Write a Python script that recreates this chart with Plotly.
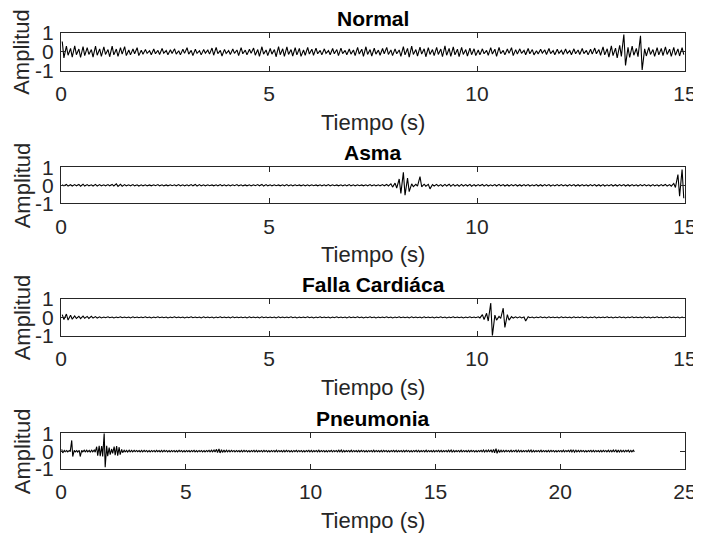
import plotly.graph_objects as go

# ---------------- data (envelope per 0.1 s bin) -------------
bin_s = 0.1
titles = ["Normal", "Asma", "Falla Cardiáca", "Pneumonia"]
x_max = [15, 15, 15, 25]
x_ticks = [[0, 5, 10, 15], [0, 5, 10, 15], [0, 5, 10, 15], [0, 5, 10, 15, 20, 25]]
y_ticks = [-1, 0, 1]

normal_hi = [
    0.55, 0.30, 0.18, 0.32, 0.15, 0.28, 0.22, 0.12, 0.30, 0.16,
    0.26, 0.12, 0.30, 0.15, 0.22, 0.28, 0.10, 0.15, 0.22, 0.09,
    0.12, 0.06, 0.15, 0.08, 0.18, 0.07, 0.11, 0.16, 0.06, 0.14,
    0.22, 0.08, 0.14, 0.06, 0.12, 0.09, 0.20, 0.24, 0.08, 0.13,
    0.07, 0.15, 0.10, 0.22, 0.09, 0.14, 0.20, 0.12, 0.27, 0.10,
    0.18, 0.12, 0.28, 0.16, 0.26, 0.12, 0.22, 0.18, 0.10, 0.24,
    0.14, 0.20, 0.08, 0.16, 0.07, 0.18, 0.12, 0.20, 0.08, 0.15,
    0.10, 0.24, 0.14, 0.27, 0.12, 0.20, 0.09, 0.18, 0.24, 0.10,
    0.16, 0.10, 0.28, 0.18, 0.30, 0.12, 0.25, 0.16, 0.22, 0.12,
    0.24, 0.15, 0.32, 0.18, 0.26, 0.14, 0.24, 0.12, 0.20, 0.16,
    0.10, 0.16, 0.08, 0.22, 0.14, 0.24, 0.08, 0.15, 0.22, 0.12,
    0.16, 0.08, 0.18, 0.12, 0.06, 0.14, 0.10, 0.18, 0.07, 0.14,
    0.08, 0.15, 0.07, 0.16, 0.10, 0.18, 0.08, 0.14, 0.20, 0.12,
    0.26, 0.16, 0.32, 0.20, 0.35, 0.92, 0.24, 0.30, 0.18, 0.85,
    0.16, 0.24, 0.12, 0.22, 0.18, 0.26, 0.14, 0.24, 0.16, 0.22,
]
normal_lo = [
    -0.32, -0.18, -0.28, -0.15, -0.30, -0.20, -0.14, -0.28, -0.18, -0.24,
    -0.14, -0.26, -0.16, -0.24, -0.12, -0.20, -0.16, -0.10, -0.20, -0.13,
    -0.08, -0.15, -0.10, -0.14, -0.07, -0.15, -0.09, -0.12, -0.16, -0.08,
    -0.12, -0.20, -0.08, -0.16, -0.07, -0.12, -0.18, -0.10, -0.22, -0.09,
    -0.14, -0.08, -0.20, -0.10, -0.16, -0.08, -0.18, -0.24, -0.12, -0.20,
    -0.12, -0.26, -0.15, -0.24, -0.14, -0.22, -0.16, -0.24, -0.18, -0.12,
    -0.18, -0.10, -0.16, -0.08, -0.15, -0.10, -0.20, -0.09, -0.15, -0.12,
    -0.20, -0.12, -0.24, -0.14, -0.22, -0.12, -0.18, -0.10, -0.14, -0.20,
    -0.10, -0.24, -0.16, -0.28, -0.14, -0.22, -0.12, -0.26, -0.14, -0.20,
    -0.14, -0.26, -0.18, -0.24, -0.16, -0.25, -0.14, -0.22, -0.15, -0.20,
    -0.16, -0.10, -0.18, -0.12, -0.24, -0.10, -0.16, -0.08, -0.20, -0.12,
    -0.08, -0.15, -0.10, -0.16, -0.12, -0.07, -0.14, -0.09, -0.15, -0.08,
    -0.14, -0.08, -0.15, -0.10, -0.14, -0.09, -0.16, -0.12, -0.10, -0.18,
    -0.16, -0.28, -0.20, -0.32, -0.24, -0.72, -0.30, -0.18, -0.26, -0.96,
    -0.22, -0.14, -0.24, -0.16, -0.20, -0.14, -0.24, -0.18, -0.22, -0.15,
]

asma_hi = [
    0.04, 0.05, 0.03, 0.04, 0.05, 0.06, 0.04, 0.03, 0.05, 0.04,
    0.03, 0.04, 0.05, 0.08, 0.06, 0.04, 0.03, 0.04, 0.03, 0.03,
    0.03, 0.02, 0.03, 0.04, 0.03, 0.02, 0.03, 0.03, 0.04, 0.03,
    0.03, 0.04, 0.05, 0.04, 0.03, 0.03, 0.02, 0.03, 0.04, 0.03,
    0.03, 0.03, 0.04, 0.03, 0.02, 0.03, 0.03, 0.04, 0.05, 0.04,
    0.03, 0.03, 0.02, 0.03, 0.04, 0.03, 0.03, 0.02, 0.03, 0.03,
    0.03, 0.02, 0.03, 0.03, 0.04, 0.03, 0.02, 0.03, 0.03, 0.04,
    0.03, 0.03, 0.02, 0.03, 0.04, 0.03, 0.03, 0.04, 0.05, 0.08,
    0.12, 0.35, 0.72, 0.40, 0.08, 0.05, 0.48, 0.06, 0.05, 0.04,
    0.05, 0.04, 0.05, 0.06, 0.05, 0.04, 0.05, 0.04, 0.05, 0.04,
    0.04, 0.05, 0.04, 0.03, 0.04, 0.05, 0.04, 0.03, 0.04, 0.04,
    0.03, 0.04, 0.04, 0.03, 0.04, 0.03, 0.04, 0.04, 0.03, 0.04,
    0.04, 0.03, 0.04, 0.04, 0.03, 0.04, 0.03, 0.04, 0.04, 0.03,
    0.04, 0.03, 0.04, 0.03, 0.04, 0.04, 0.03, 0.04, 0.03, 0.04,
    0.04, 0.03, 0.04, 0.03, 0.04, 0.05, 0.04, 0.10, 0.60, 0.88,
]
asma_lo = [
    -0.03, -0.04, -0.04, -0.03, -0.05, -0.04, -0.03, -0.04, -0.04, -0.03,
    -0.03, -0.03, -0.04, -0.06, -0.05, -0.03, -0.03, -0.03, -0.04, -0.03,
    -0.03, -0.03, -0.02, -0.03, -0.03, -0.03, -0.02, -0.03, -0.03, -0.03,
    -0.03, -0.03, -0.04, -0.03, -0.03, -0.02, -0.03, -0.03, -0.03, -0.03,
    -0.03, -0.02, -0.03, -0.03, -0.03, -0.03, -0.02, -0.03, -0.04, -0.03,
    -0.03, -0.02, -0.03, -0.03, -0.03, -0.03, -0.02, -0.03, -0.03, -0.03,
    -0.02, -0.03, -0.03, -0.03, -0.03, -0.02, -0.03, -0.03, -0.03, -0.03,
    -0.03, -0.02, -0.03, -0.03, -0.03, -0.03, -0.03, -0.03, -0.04, -0.10,
    -0.15, -0.45, -0.55, -0.35, -0.08, -0.05, -0.08, -0.05, -0.20, -0.04,
    -0.04, -0.05, -0.04, -0.05, -0.04, -0.05, -0.04, -0.04, -0.05, -0.04,
    -0.03, -0.04, -0.04, -0.03, -0.04, -0.03, -0.04, -0.04, -0.03, -0.04,
    -0.04, -0.03, -0.04, -0.03, -0.04, -0.04, -0.03, -0.04, -0.03, -0.03,
    -0.03, -0.04, -0.03, -0.04, -0.04, -0.03, -0.04, -0.03, -0.04, -0.04,
    -0.04, -0.03, -0.04, -0.04, -0.03, -0.04, -0.04, -0.03, -0.04, -0.03,
    -0.03, -0.04, -0.03, -0.04, -0.03, -0.04, -0.05, -0.12, -0.60, -0.72,
]

falla_hi = [
    0.15, 0.18, 0.12, 0.08, 0.06, 0.07, 0.05, 0.06, 0.04, 0.03,
    0.02, 0.03, 0.02, 0.02, 0.03, 0.02, 0.02, 0.03, 0.02, 0.02,
    0.03, 0.02, 0.02, 0.03, 0.02, 0.02, 0.02, 0.03, 0.02, 0.02,
    0.02, 0.03, 0.02, 0.02, 0.03, 0.02, 0.02, 0.02, 0.03, 0.02,
    0.02, 0.03, 0.02, 0.02, 0.02, 0.03, 0.02, 0.02, 0.03, 0.02,
    0.02, 0.02, 0.03, 0.02, 0.02, 0.03, 0.02, 0.02, 0.02, 0.03,
    0.02, 0.02, 0.03, 0.02, 0.02, 0.02, 0.03, 0.02, 0.02, 0.03,
    0.02, 0.03, 0.02, 0.02, 0.03, 0.02, 0.02, 0.02, 0.03, 0.02,
    0.02, 0.03, 0.02, 0.02, 0.03, 0.02, 0.02, 0.03, 0.02, 0.02,
    0.02, 0.03, 0.02, 0.02, 0.03, 0.02, 0.02, 0.02, 0.03, 0.02,
    0.03, 0.15, 0.22, 0.78, 0.12, 0.05, 0.50, 0.15, 0.04, 0.03,
    0.03, 0.02, 0.03, 0.02, 0.02, 0.03, 0.02, 0.03, 0.02, 0.02,
    0.03, 0.02, 0.02, 0.03, 0.02, 0.03, 0.02, 0.02, 0.03, 0.02,
    0.02, 0.03, 0.02, 0.02, 0.03, 0.02, 0.02, 0.03, 0.02, 0.02,
    0.03, 0.02, 0.02, 0.03, 0.02, 0.02, 0.03, 0.02, 0.02, 0.02,
]
falla_lo = [
    -0.12, -0.15, -0.10, -0.06, -0.07, -0.05, -0.06, -0.04, -0.04, -0.03,
    -0.02, -0.02, -0.03, -0.02, -0.02, -0.02, -0.03, -0.02, -0.02, -0.02,
    -0.02, -0.03, -0.02, -0.02, -0.02, -0.03, -0.02, -0.02, -0.02, -0.03,
    -0.02, -0.02, -0.02, -0.03, -0.02, -0.02, -0.03, -0.02, -0.02, -0.02,
    -0.03, -0.02, -0.02, -0.02, -0.03, -0.02, -0.02, -0.03, -0.02, -0.02,
    -0.02, -0.03, -0.02, -0.02, -0.02, -0.02, -0.03, -0.02, -0.02, -0.02,
    -0.03, -0.02, -0.02, -0.02, -0.03, -0.02, -0.02, -0.02, -0.03, -0.02,
    -0.02, -0.02, -0.03, -0.02, -0.02, -0.03, -0.02, -0.02, -0.02, -0.03,
    -0.02, -0.02, -0.02, -0.03, -0.02, -0.02, -0.03, -0.02, -0.02, -0.03,
    -0.02, -0.02, -0.03, -0.02, -0.02, -0.02, -0.03, -0.02, -0.02, -0.02,
    -0.03, -0.12, -0.20, -1.00, -0.15, -0.05, -0.55, -0.15, -0.04, -0.03,
    -0.03, -0.20, -0.02, -0.03, -0.02, -0.02, -0.03, -0.02, -0.02, -0.03,
    -0.02, -0.02, -0.03, -0.02, -0.02, -0.02, -0.03, -0.02, -0.03, -0.02,
    -0.02, -0.02, -0.03, -0.02, -0.02, -0.03, -0.02, -0.02, -0.02, -0.03,
    -0.02, -0.03, -0.02, -0.02, -0.03, -0.02, -0.02, -0.02, -0.03, -0.02,
]

pneu_hi = [
    0.10, 0.04, 0.03, 0.04, 0.60, 0.04, 0.03, 0.05, 0.04, 0.05,
    0.05, 0.04, 0.05, 0.06, 0.25, 0.30, 0.28, 1.00, 0.30, 0.20,
    0.12, 0.25, 0.28, 0.22, 0.10, 0.05, 0.04, 0.05, 0.04, 0.05,
    0.04, 0.03, 0.04, 0.05, 0.04, 0.03, 0.04, 0.04, 0.05, 0.03,
    0.04, 0.05, 0.04, 0.03, 0.04, 0.04, 0.03, 0.05, 0.04, 0.03,
    0.04, 0.03, 0.04, 0.05, 0.03, 0.04, 0.04, 0.03, 0.04, 0.05,
    0.05, 0.06, 0.10, 0.12, 0.08, 0.06, 0.05, 0.04, 0.05, 0.04,
    0.04, 0.03, 0.04, 0.05, 0.04, 0.03, 0.04, 0.05, 0.04, 0.03,
    0.04, 0.05, 0.04, 0.03, 0.04, 0.04, 0.05, 0.04, 0.03, 0.04,
    0.05, 0.04, 0.03, 0.04, 0.05, 0.04, 0.04, 0.03, 0.04, 0.05,
    0.04, 0.03, 0.04, 0.05, 0.04, 0.04, 0.03, 0.04, 0.05, 0.04,
    0.04, 0.05, 0.06, 0.04, 0.03, 0.04, 0.05, 0.04, 0.03, 0.04,
    0.05, 0.04, 0.03, 0.04, 0.04, 0.05, 0.04, 0.03, 0.04, 0.05,
    0.04, 0.03, 0.04, 0.05, 0.04, 0.03, 0.04, 0.04, 0.05, 0.04,
    0.03, 0.04, 0.05, 0.04, 0.03, 0.04, 0.05, 0.04, 0.03, 0.04,
    0.04, 0.05, 0.04, 0.03, 0.04, 0.05, 0.06, 0.04, 0.03, 0.04,
    0.05, 0.04, 0.03, 0.04, 0.05, 0.04, 0.03, 0.04, 0.05, 0.06,
    0.05, 0.06, 0.08, 0.10, 0.14, 0.08, 0.05, 0.04, 0.05, 0.04,
    0.05, 0.04, 0.06, 0.05, 0.04, 0.03, 0.04, 0.05, 0.06, 0.04,
    0.03, 0.04, 0.05, 0.04, 0.03, 0.04, 0.05, 0.04, 0.03, 0.04,
    0.04, 0.05, 0.04, 0.05, 0.06, 0.07, 0.05, 0.04, 0.05, 0.04,
    0.03, 0.04, 0.05, 0.04, 0.04, 0.03, 0.04, 0.05, 0.04, 0.05,
    0.04, 0.06, 0.08, 0.06, 0.05, 0.04, 0.05, 0.06, 0.04, 0.05,
]
pneu_lo = [
    -0.10, -0.03, -0.04, -0.03, -0.30, -0.04, -0.05, -0.30, -0.04, -0.04,
    -0.04, -0.05, -0.04, -0.06, -0.25, -0.28, -0.30, -0.90, -0.28, -0.20,
    -0.12, -0.22, -0.25, -0.20, -0.08, -0.04, -0.05, -0.04, -0.04, -0.03,
    -0.03, -0.04, -0.04, -0.03, -0.04, -0.04, -0.03, -0.04, -0.03, -0.04,
    -0.04, -0.03, -0.04, -0.04, -0.03, -0.04, -0.04, -0.03, -0.04, -0.04,
    -0.03, -0.04, -0.03, -0.04, -0.04, -0.03, -0.04, -0.04, -0.03, -0.04,
    -0.04, -0.05, -0.08, -0.10, -0.07, -0.05, -0.04, -0.04, -0.03, -0.04,
    -0.03, -0.04, -0.04, -0.03, -0.04, -0.04, -0.03, -0.04, -0.04, -0.03,
    -0.04, -0.03, -0.04, -0.04, -0.03, -0.04, -0.04, -0.03, -0.04, -0.04,
    -0.03, -0.04, -0.04, -0.03, -0.04, -0.03, -0.04, -0.04, -0.03, -0.04,
    -0.04, -0.03, -0.04, -0.04, -0.03, -0.04, -0.04, -0.03, -0.04, -0.03,
    -0.04, -0.04, -0.05, -0.04, -0.03, -0.04, -0.04, -0.03, -0.04, -0.04,
    -0.03, -0.04, -0.04, -0.03, -0.04, -0.04, -0.03, -0.04, -0.04, -0.03,
    -0.04, -0.04, -0.03, -0.04, -0.04, -0.03, -0.04, -0.04, -0.03, -0.04,
    -0.04, -0.03, -0.04, -0.04, -0.03, -0.04, -0.04, -0.03, -0.04, -0.04,
    -0.03, -0.04, -0.04, -0.03, -0.04, -0.04, -0.05, -0.04, -0.03, -0.04,
    -0.04, -0.03, -0.04, -0.04, -0.03, -0.04, -0.04, -0.03, -0.04, -0.05,
    -0.04, -0.05, -0.07, -0.09, -0.12, -0.07, -0.04, -0.04, -0.03, -0.04,
    -0.04, -0.03, -0.05, -0.04, -0.04, -0.03, -0.04, -0.04, -0.05, -0.04,
    -0.03, -0.04, -0.04, -0.03, -0.04, -0.04, -0.03, -0.04, -0.04, -0.03,
    -0.04, -0.04, -0.03, -0.04, -0.05, -0.06, -0.04, -0.04, -0.03, -0.04,
    -0.04, -0.03, -0.04, -0.04, -0.03, -0.04, -0.04, -0.03, -0.04, -0.04,
    -0.04, -0.05, -0.07, -0.05, -0.04, -0.04, -0.03, -0.05, -0.04, -0.04,
]

series_hi = [normal_hi, asma_hi, falla_hi, pneu_hi]
series_lo = [normal_lo, asma_lo, falla_lo, pneu_lo]

# ---------------- layout geometry (window pixels) ----------------
W, H = 701, 535
OFF = 8  # the page places the figure 8 px from the window's top-left corner
X0, X1 = 61, 685
boxes = [(33, 70.7), (167.3, 203.3), (299, 335.7), (433.3, 469)]  # (top, bottom)
FONT = "Arial, 'Liberation Sans', Helvetica, sans-serif"
AX_COLOR = "#262626"

def px(x):
    return (x - OFF) / W

def py(y):
    return 1 - (y - OFF) / H

fig = go.Figure()
layout = dict(
    width=W, height=H, margin=dict(l=0, r=0, t=0, b=0, autoexpand=False),
    paper_bgcolor="white", plot_bgcolor="white", showlegend=False,
    font=dict(family=FONT, color=AX_COLOR),
)
annotations = []

for k in range(4):
    sfx = "" if k == 0 else str(k + 1)
    hi, lo = series_hi[k], series_lo[k]
    xs, ys = [], []
    for i in range(len(hi)):
        t = i * bin_s
        xs += [t + 0.3 * bin_s, t + 0.7 * bin_s]
        ys += [hi[i], lo[i]]
    fig.add_trace(go.Scatter(
        x=xs, y=ys, mode="lines", line=dict(color="black", width=1.1),
        xaxis="x" + sfx, yaxis="y" + sfx, hoverinfo="skip",
    ))
    top, bot = boxes[k]
    layout["xaxis" + sfx] = dict(
        domain=[px(X0), px(X1)], range=[0, x_max[k]], anchor="y" + sfx,
        tickvals=x_ticks[k], ticks="inside", ticklen=5, tickcolor=AX_COLOR,
        showline=True, linecolor=AX_COLOR, linewidth=1, mirror="ticks",
        showgrid=False, zeroline=False, tickfont=dict(size=21, color=AX_COLOR),
        ticklabelstandoff=4, automargin=False,
    )
    layout["yaxis" + sfx] = dict(
        domain=[py(bot), py(top)], range=[-1, 1], anchor="x" + sfx,
        tickvals=y_ticks, ticktext=[str(v) for v in y_ticks],
        ticks="inside", ticklen=5, tickcolor=AX_COLOR,
        showline=True, linecolor=AX_COLOR, linewidth=1, mirror="ticks",
        showgrid=False, zeroline=False, tickfont=dict(size=21, color=AX_COLOR),
        ticklabelstandoff=2, automargin=False,
    )
    xc = px((X0 + X1) / 2)
    annotations.append(dict(
        text="<b>%s</b>" % titles[k], x=xc, y=py(top - 15), xref="paper", yref="paper",
        xanchor="center", yanchor="middle", showarrow=False,
        font=dict(size=21, color="black", family=FONT),
    ))
    annotations.append(dict(
        text="Tiempo (s)", x=xc, y=py(bot + 51.5), xref="paper", yref="paper",
        xanchor="center", yanchor="middle", showarrow=False,
        font=dict(size=22, color=AX_COLOR, family=FONT),
    ))
    annotations.append(dict(
        text="Amplitud", x=px(22), y=py((top + bot) / 2), xref="paper", yref="paper",
        xanchor="center", yanchor="middle", showarrow=False, textangle=-90,
        font=dict(size=22, color=AX_COLOR, family=FONT),
    ))

layout["annotations"] = annotations
fig.update_layout(**layout)
fig.write_html("out.html")
